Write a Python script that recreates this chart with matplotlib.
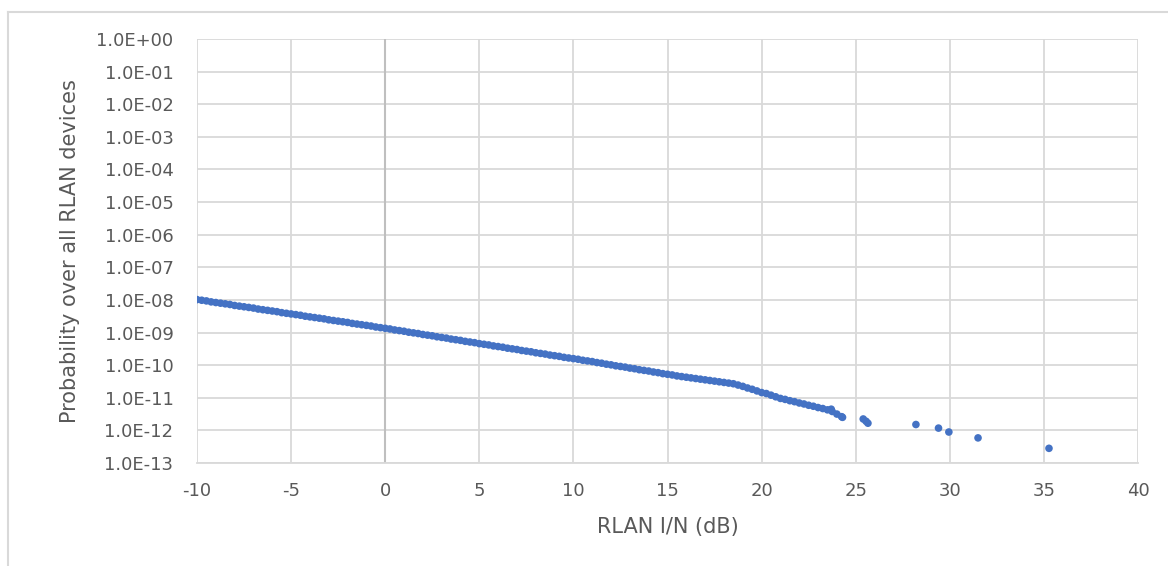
import numpy as np
import matplotlib.pyplot as plt
from matplotlib.lines import Line2D
from matplotlib.ticker import FixedLocator, NullLocator

# RLAN I/N (dB) and log10(probability)
x_dense = [
    -10, -9.75, -9.5, -9.25, -9, -8.75, -8.5, -8.25, -8, -7.75, -7.5, -7.25,
    -7, -6.75, -6.5, -6.25, -6, -5.75, -5.5, -5.25, -5, -4.75, -4.5, -4.25,
    -4, -3.75, -3.5, -3.25, -3, -2.75, -2.5, -2.25, -2, -1.75, -1.5, -1.25,
    -1, -0.75, -0.5, -0.25, 0, 0.25, 0.5, 0.75, 1, 1.25, 1.5, 1.75,
    2, 2.25, 2.5, 2.75, 3, 3.25, 3.5, 3.75, 4, 4.25, 4.5, 4.75,
    5, 5.25, 5.5, 5.75, 6, 6.25, 6.5, 6.75, 7, 7.25, 7.5, 7.75,
    8, 8.25, 8.5, 8.75, 9, 9.25, 9.5, 9.75, 10, 10.25, 10.5, 10.75,
    11, 11.25, 11.5, 11.75, 12, 12.25, 12.5, 12.75, 13, 13.25, 13.5, 13.75,
    14, 14.25, 14.5, 14.75, 15, 15.25, 15.5, 15.75, 16, 16.25, 16.5, 16.75,
    17, 17.25, 17.5, 17.75, 18, 18.25, 18.5, 18.75, 19, 19.25, 19.5, 19.75,
    20, 20.25, 20.5, 20.75, 21, 21.25, 21.5, 21.75, 22, 22.25, 22.5, 22.75,
    23, 23.25, 23.5, 23.7, 23.75, 24, 24.25,
]
logp_dense = [
    -7.99, -8.01, -8.03, -8.06, -8.08, -8.10, -8.12, -8.14, -8.17, -8.19, -8.21, -8.23,
    -8.25, -8.28, -8.30, -8.32, -8.34, -8.36, -8.39, -8.41, -8.43, -8.45, -8.47, -8.50,
    -8.52, -8.54, -8.56, -8.58, -8.61, -8.63, -8.65, -8.67, -8.69, -8.72, -8.74, -8.76,
    -8.78, -8.80, -8.83, -8.85, -8.87, -8.89, -8.92, -8.94, -8.96, -8.99, -9.01, -9.03,
    -9.06, -9.08, -9.10, -9.13, -9.15, -9.17, -9.20, -9.22, -9.24, -9.27, -9.29, -9.31,
    -9.34, -9.36, -9.38, -9.41, -9.43, -9.45, -9.48, -9.50, -9.52, -9.55, -9.57, -9.59,
    -9.62, -9.64, -9.66, -9.69, -9.71, -9.73, -9.76, -9.78, -9.80, -9.82, -9.85, -9.87,
    -9.89, -9.92, -9.94, -9.97, -9.99, -10.02, -10.04, -10.06, -10.09, -10.11, -10.14, -10.16,
    -10.18, -10.21, -10.23, -10.26, -10.28, -10.30, -10.33, -10.35, -10.37, -10.39, -10.41, -10.43,
    -10.45, -10.47, -10.49, -10.51, -10.53, -10.55, -10.57, -10.61, -10.65, -10.70, -10.74, -10.79,
    -10.84, -10.87, -10.92, -10.97, -11.02, -11.05, -11.09, -11.12, -11.16, -11.19, -11.23, -11.26,
    -11.30, -11.33, -11.37, -11.35, -11.42, -11.50, -11.58,
]
x_tail = [24.3, 25.4, 25.55, 25.65, 28.2, 29.4, 29.95, 31.5, 35.27]
logp_tail = [-11.60, -11.65, -11.72, -11.78, -11.82, -11.93, -12.05, -12.23, -12.55]

x_ticks = [-10, -5, 0, 5, 10, 15, 20, 25, 30, 35, 40]
y_exps = list(range(0, -14, -1))

x_all = x_dense + x_tail
p_all = [10.0 ** v for v in logp_dense + logp_tail]

plt.rcParams['font.family'] = ['DejaVu Sans']

fig = plt.figure(figsize=(11.68, 5.66), dpi=100)
ax = fig.add_axes([197 / 1168, 1 - 463 / 566, (1138 - 197) / 1168, (463 - 39) / 566])

# outer chart frame (left and top edges visible)
fig.add_artist(Line2D([8 / 1168, 8 / 1168], [0, 1 - 12 / 566], transform=fig.transFigure,
                      color='#d9d9d9', lw=1.5))
fig.add_artist(Line2D([8 / 1168, 1], [1 - 12 / 566, 1 - 12 / 566], transform=fig.transFigure,
                      color='#d9d9d9', lw=1.5))

ax.scatter(x_all, p_all, s=30, color='#4472C4', edgecolors='none', zorder=3)

ax.set_yscale('log')
ax.set_xlim(-10, 40)
ax.set_ylim(1e-13, 1)
ax.set_yticks([10.0 ** e for e in y_exps])
ax.yaxis.set_minor_locator(NullLocator())
ax.set_yticklabels(['1.0E+00' if e == 0 else '1.0E-%02d' % (-e) for e in y_exps])
ax.set_xticks(x_ticks)
ax.set_xticklabels([str(t) for t in x_ticks])

ax.grid(True, color='#d9d9d9', lw=1.3)
ax.set_axisbelow(True)
for side in ['left', 'right', 'top']:
    ax.spines[side].set_visible(False)
ax.spines['bottom'].set_color('#d9d9d9')
ax.spines['bottom'].set_linewidth(1.3)
ax.axvline(0, color='#bfbfbf', lw=1.5, zorder=1)

ax.tick_params(length=0, labelsize=13, colors='#595959')
ax.tick_params(axis='y', pad=17)
ax.tick_params(axis='x', pad=14)
ax.set_xlabel('RLAN I/N (dB)', fontsize=15, color='#595959', labelpad=12)
ax.set_ylabel('Probability over all RLAN devices', fontsize=15, color='#595959', labelpad=12)

fig.savefig('out.png', dpi=100)
